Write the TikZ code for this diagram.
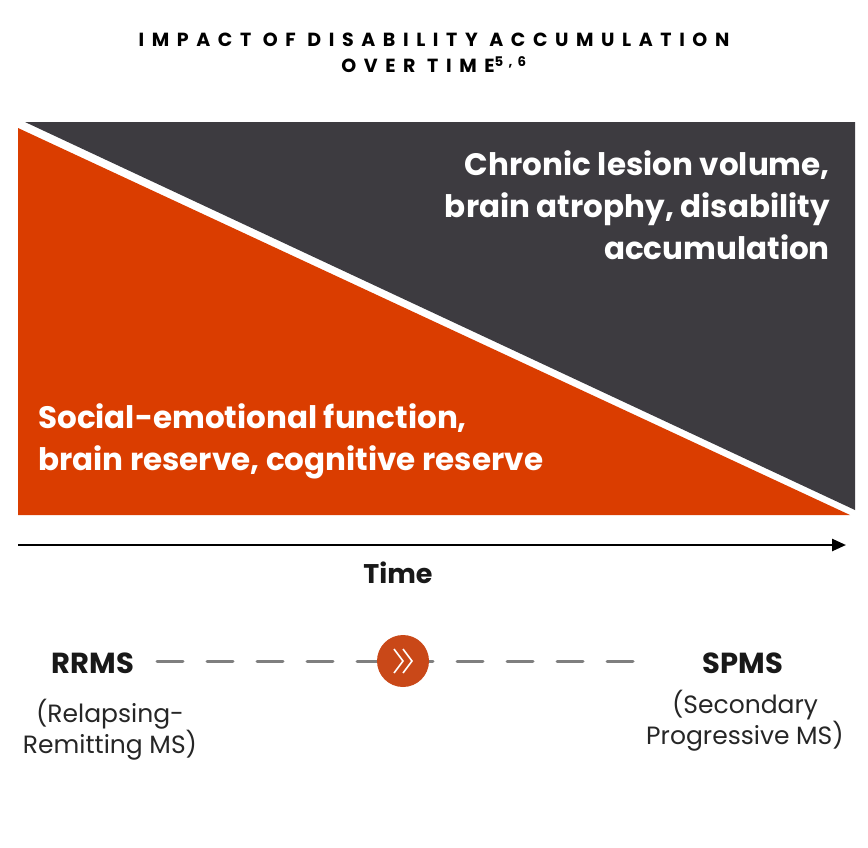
\documentclass[tikz,border=0pt]{standalone}
\usepackage{fontspec}
\setmainfont{Poppins}
\usetikzlibrary{arrows.meta}
\definecolor{dark}{HTML}{3D3B40}
\definecolor{org}{HTML}{DA3D00}
\definecolor{circ}{HTML}{C94818}
\definecolor{dgray}{HTML}{7F7F7F}
\tikzset{big/.style={font=\fontsize{31}{42}\selectfont\bfseries, text=white, inner sep=0pt},
lab/.style={font=\fontsize{29}{32}\selectfont\bfseries, text=black!90, inner sep=0pt},
sub/.style={font=\fontsize{25}{31}\selectfont, text=black!85, inner sep=0pt, align=center}}
\begin{document}
\begin{tikzpicture}[x=1pt,y=-1pt]
\useasboundingbox (0,0) rectangle (868,847);
\fill[dark] (25,122) -- (855,122) -- (855,510) -- cycle;
\fill[org] (18,128) -- (850,515) -- (18,515) -- cycle;
\node[font=\fontsize{19}{26}\selectfont\bfseries\addfontfeatures{LetterSpace=40}, align=center, inner sep=0pt] (title) at (434,53) {IMPACT OF DISABILITY ACCUMULATION\\OVER TIME\textsuperscript{5,6}};
\node[big, align=right, anchor=north east] (dk) at (830,150) {Chronic lesion volume,\\brain atrophy, disability\\accumulation};
\node[big, align=left, anchor=north west] (or) at (38,403) {Social-emotional function,\\brain reserve, cognitive reserve};
\coordinate (a0) at (18,545);
\coordinate (a1) at (846,545);
\draw[line width=2.5pt, -{Triangle[length=14pt,width=12pt]}] (a0) -- (a1);
\node[lab, font=\fontsize{27}{30}\selectfont\bfseries] (time) at (398,573) {Time};
\coordinate (d0) at (157,661);
\coordinate (d1) at (640,661);
\draw[dgray, line width=3pt, line cap=round, dash pattern=on 26pt off 24pt] (d0) -- (d1);
\node[circle, fill=circ, minimum size=52pt, inner sep=0pt] (c) at (403,661) {};
\draw[white, line width=1.6pt] ([xshift=-9pt,yshift=-12pt]c.center) -- ([xshift=0pt,yshift=0pt]c.center) -- ([xshift=-9pt,yshift=12pt]c.center);
\draw[white, line width=1.6pt] ([xshift=0pt,yshift=-12pt]c.center) -- ([xshift=9pt,yshift=0pt]c.center) -- ([xshift=0pt,yshift=12pt]c.center);
\node[lab] (rr) at (93,663) {RRMS};
\node[sub] (rrs) at (110,730) {(Relapsing-\\Remitting MS)};
\node[lab] (sp) at (743,663) {SPMS};
\node[sub] (sps) at (745,721) {(Secondary\\Progressive MS)};
\end{tikzpicture}
\end{document}
